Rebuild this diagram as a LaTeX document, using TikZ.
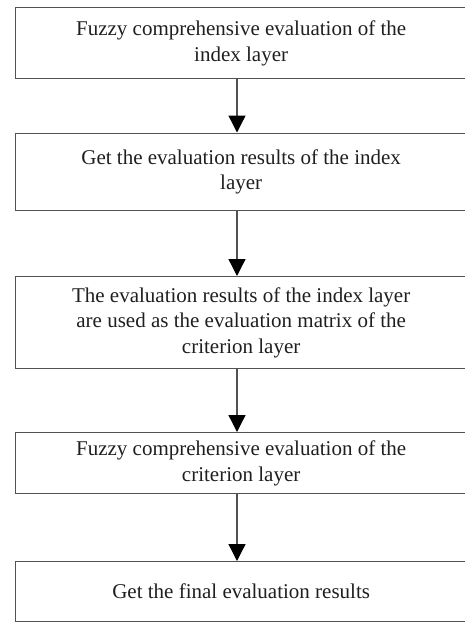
\documentclass[tikz,border=0pt]{standalone}
\usepackage{fontspec}
\setmainfont{Liberation Serif}
\usetikzlibrary{arrows.meta}
\begin{document}
\begin{tikzpicture}[x=1pt,y=-1pt,
  box/.style={draw=black!68, line width=1.3pt, text=black!88, align=center,
    font=\fontsize{21}{25.5}\selectfont, minimum width=451pt, inner sep=0pt,
    anchor=north west},
  arr/.style={draw=black!68, line width=1.3pt,
    -{Triangle[width=17pt,length=17pt,fill=black,color=black]}}]
\useasboundingbox (0,0) rectangle (464,622);
\coordinate (ax) at (237,0);
\node[box, minimum height=71pt] (b1) at (15,7)
  {Fuzzy comprehensive evaluation of the\\index layer};
\node[box, minimum height=77.5pt] (b2) at (15,132.5)
  {Get the evaluation results of the index\\layer};
\node[box, minimum height=92pt] (b3) at (15,276)
  {The evaluation results of the index layer\\are used as the evaluation matrix of the\\criterion layer};
\node[box, minimum height=61pt] (b4) at (15,432)
  {Fuzzy comprehensive evaluation of the\\criterion layer};
\node[box, minimum height=60pt] (b5) at (15,561)
  {Get the final evaluation results};
\draw[arr] (b1.south -| ax) -- (b2.north -| ax);
\draw[arr] (b2.south -| ax) -- (b3.north -| ax);
\draw[arr] (b3.south -| ax) -- (b4.north -| ax);
\draw[arr] (b4.south -| ax) -- (b5.north -| ax);
\end{tikzpicture}
\end{document}
